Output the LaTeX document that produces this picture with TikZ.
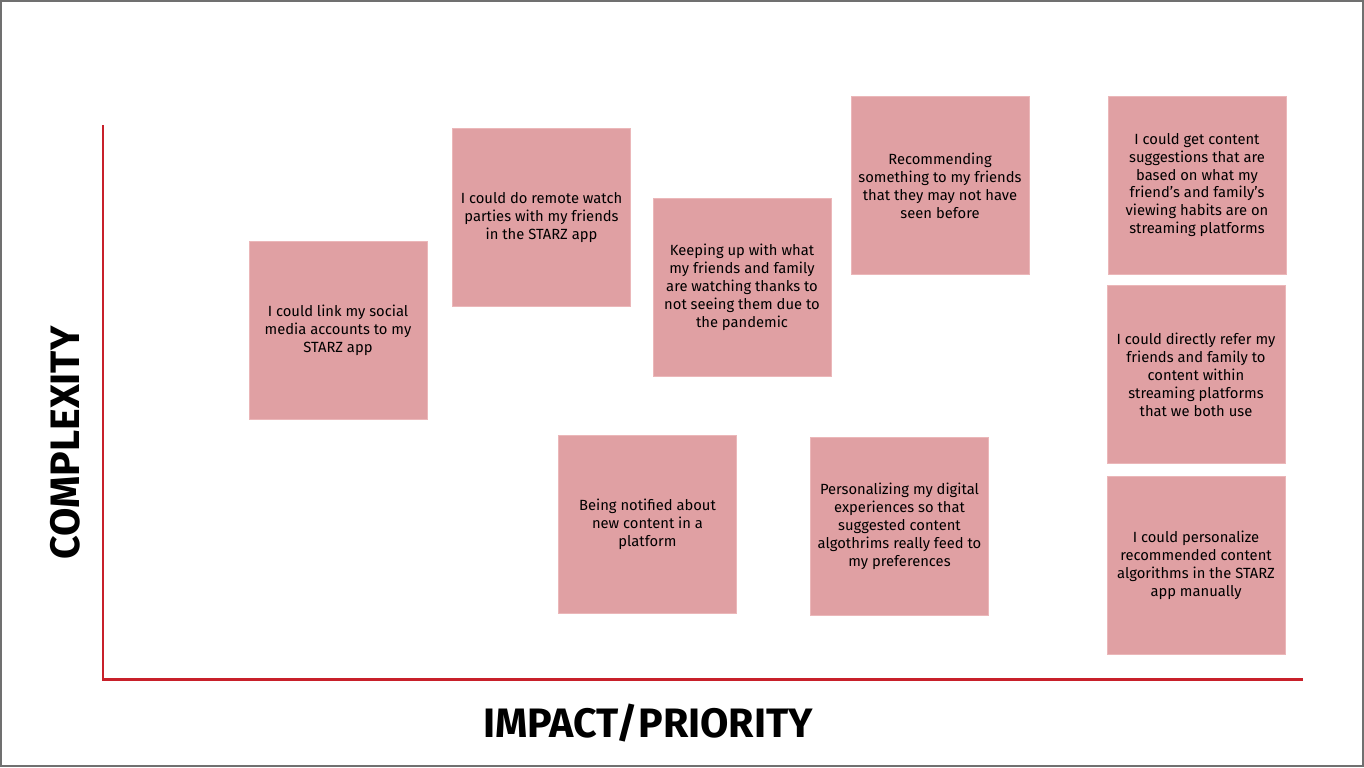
\documentclass[tikz,border=0pt]{standalone}
\usepackage{fontspec}
\setmainfont{Fira Sans}
\usepackage{xcolor}
\usepackage{tikz}
\usetikzlibrary{positioning}

\definecolor{stickypink}{HTML}{E0A0A3}
\definecolor{stickyedge}{HTML}{EBB7B9}
\definecolor{axisred}{HTML}{C8202A}
\definecolor{frameGray}{HTML}{707070}

\begin{document}
\begin{tikzpicture}[
		x=0.02cm, y=-0.02cm,
		sticky/.style={
			rectangle, fill=stickypink, draw=stickyedge, thin,
			minimum width=3.56cm, minimum height=3.56cm,
			inner sep=0pt, align=center,
			font=\fontsize{8.4}{10.2}\selectfont
		},
		axis/.style={draw=axisred, line width=1.7pt},
		axislabel/.style={font=\fontsize{23.4}{26}\selectfont\bfseries}
		]
		% Rahmen und feste Bildgroesse
		\useasboundingbox (0,0) rectangle (1364,767);
		\draw[frameGray, line width=1.1pt] (1,1) rectangle (1363,766);
		
		% Achsen
		\coordinate (ytop) at (103,125);
		\coordinate (origin) at (103,679);
		\coordinate (xend) at (1303,679);
		\draw[axis] (ytop) -- (origin) -- (xend);
		
		\node[axislabel, rotate=90] (ylab) at (65,443) {COMPLEXITY};
		\node[axislabel] (xlab) at (648,723) {IMPACT/PRIORITY};
		
		% Notizzettel
		\node[sticky] (link) at (338,330) {I could link my social\\media accounts to my\\STARZ app};
		\node[sticky] (watch) at (541.5,217.5) {I could do remote watch\\parties with my friends\\in the STARZ app};
		\node[sticky] (keep) at (742,287.5) {Keeping up with what\\my friends and family\\are watching thanks to\\not seeing them due to\\the pandemic};
		\node[sticky] (recommend) at (940,185.5) {Recommending\\something to my friends\\that they may not have\\seen before};
		\node[sticky] (suggest) at (1197,185) {I could get content\\suggestions that are\\based on what my\\friend's and family's\\viewing habits are on\\streaming platforms};
		\node[sticky] (refer) at (1196,374.5) {I could directly refer my\\friends and family to\\content within\\streaming platforms\\that we both use};
		\node[sticky] (algo) at (1196,565.5) {I could personalize\\recommended content\\algorithms in the STARZ\\app manually};
		\node[sticky] (notified) at (647.5,524.5) {Being notified about\\new content in a\\platform};
		\node[sticky] (digital) at (899.5,526.5) {Personalizing my digital\\experiences so that\\suggested content\\algothrims really feed to\\my preferences};
		
	\end{tikzpicture}
\end{document}
